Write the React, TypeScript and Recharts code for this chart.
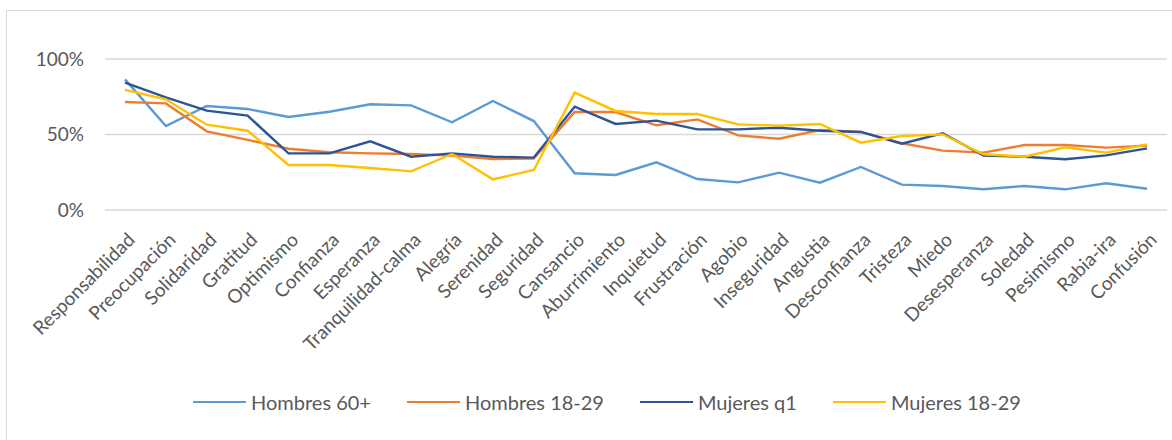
import React from 'react';
import { LineChart, Line, XAxis, YAxis, CartesianGrid } from 'recharts';

const categories = [
  'Responsabilidad', 'Preocupación', 'Solidaridad', 'Gratitud', 'Optimismo', 'Confianza',
  'Esperanza', 'Tranquilidad-calma', 'Alegría', 'Serenidad', 'Seguridad', 'Cansancio',
  'Aburrimiento', 'Inquietud', 'Frustración', 'Agobio', 'Inseguridad', 'Angustia',
  'Desconfianza', 'Tristeza', 'Miedo', 'Desesperanza', 'Soledad', 'Pesimismo', 'Rabia-ira', 'Confusión',
];

const hombres60 = [86.5, 55.6, 68.9, 66.9, 61.6, 65.1, 70.0, 69.3, 58.1, 72.2, 58.9, 24.3, 23.2, 31.6, 20.5, 18.3, 24.7, 18.1, 28.5, 16.8, 15.9, 13.7, 15.9, 13.7, 17.7, 14.1];
const hombres1829 = [71.5, 70.6, 52.1, 46.4, 40.6, 38.2, 37.5, 37.1, 36.0, 33.8, 34.0, 64.9, 64.9, 56.1, 60.0, 49.4, 47.2, 53.0, 51.7, 44.2, 39.3, 38.0, 43.0, 43.0, 41.3, 42.6];
const mujeresQ1 = [84.3, 74.6, 65.8, 62.5, 37.5, 37.5, 45.5, 35.3, 37.5, 35.3, 34.7, 68.4, 57.0, 59.2, 53.4, 53.4, 54.5, 52.5, 51.7, 43.9, 50.8, 36.0, 35.3, 33.6, 36.2, 40.8];
const mujeres1829 = [79.5, 73.3, 56.5, 52.5, 29.8, 29.8, 27.8, 25.6, 37.1, 20.3, 26.5, 77.7, 65.6, 63.6, 63.6, 56.7, 55.9, 57.0, 44.6, 49.0, 50.1, 36.9, 35.3, 41.5, 38.0, 43.5];

const yTicks = [0, 50, 100];

const seriesDefs = [
  { key: 'h60', name: 'Hombres 60+', values: hombres60, color: '#5B9BD5' },
  { key: 'h1829', name: 'Hombres 18-29', values: hombres1829, color: '#ED7D31' },
  { key: 'mq1', name: 'Mujeres q1', values: mujeresQ1, color: '#2F5496' },
  { key: 'm1829', name: 'Mujeres 18-29', values: mujeres1829, color: '#FFC000' },
];

const data = categories.map((c, i) => {
  const row: Record<string, string | number> = { cat: c };
  seriesDefs.forEach((s) => { row[s.key] = s.values[i]; });
  return row;
});

const FONT = 'Lato, "Liberation Sans", sans-serif';
const TEXT = '#595959';

const XTick = (props: any) => {
  const { x, y, payload } = props;
  const tx = x + 11;
  return (
    <text x={tx} y={y} transform={`rotate(-45 ${tx} ${y})`} textAnchor="end" fill={TEXT} fontSize={19} fontFamily={FONT}>
      {payload.value}
    </text>
  );
};

export default function App() {
  return (
    <div style={{ position: 'absolute', left: 0, top: 0, width: 1172, height: 440, overflow: 'hidden', background: '#fff' }}>
      <div style={{ position: 'absolute', left: 6, top: 10, width: 1300, height: 600, border: '1px solid #D9D9D9' }} />
      <div style={{ position: 'absolute', left: 0, top: 0 }}>
        <LineChart width={1172} height={440} data={data} margin={{ top: 59, right: 5, left: 0, bottom: 100 }}>
          <CartesianGrid vertical={false} stroke="#D9D9D9" strokeWidth={1.5} />
          <XAxis
            dataKey="cat"
            interval={0}
            axisLine={false}
            tickLine={false}
            tickSize={0}
            tickMargin={31}
            height={130}
            padding={{ left: 20, right: 20 }}
            tick={<XTick />}
          />
          <YAxis
            domain={[0, 100]}
            ticks={yTicks}
            width={105}
            axisLine={false}
            tickLine={false}
            tickSize={0}
            tickMargin={21}
            tickFormatter={(v: number) => `${v}%`}
            tick={{ fill: TEXT, fontSize: 19, fontFamily: FONT }}
          />
          {seriesDefs.map((s) => (
            <Line
              key={s.key}
              type="linear"
              dataKey={s.key}
              name={s.name}
              stroke={s.color}
              strokeWidth={2.4}
              dot={false}
              activeDot={false}
              isAnimationActive={false}
            />
          ))}
        </LineChart>
      </div>
      <div style={{ position: 'absolute', left: 193, top: 390, display: 'flex', alignItems: 'center', fontFamily: FONT, fontSize: 20, color: TEXT, whiteSpace: 'nowrap' }}>
        {seriesDefs.map((s, i) => (
          <div key={s.key} style={{ display: 'flex', alignItems: 'center', marginRight: i < seriesDefs.length - 1 ? 36 : 0 }}>
            <div style={{ width: 53, height: 2.5, background: s.color, marginRight: 5 }} />
            <span>{s.name}</span>
          </div>
        ))}
      </div>
    </div>
  );
}
